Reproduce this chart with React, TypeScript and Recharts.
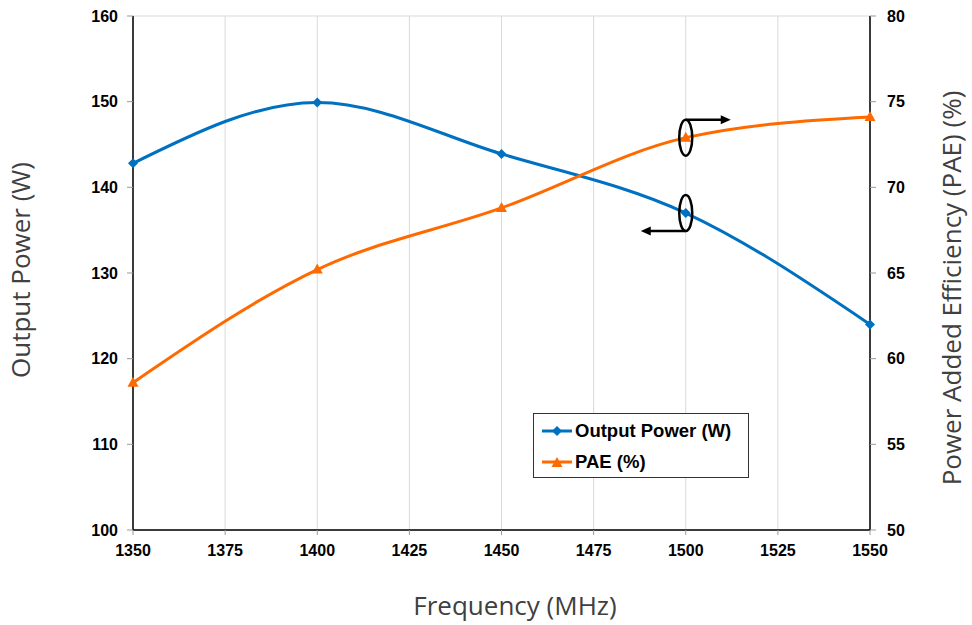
import React from 'react';
import {
  LineChart, Line, XAxis, YAxis, CartesianGrid, ReferenceDot,
} from 'recharts';

// ── Data ───────────────────────────────────────────────────────────────────

const FREQUENCIES = [1350, 1400, 1450, 1500, 1550];
const OUTPUT_POWER = [142.8, 149.9, 143.9, 137.0, 124.0];
const PAE = [58.6, 65.2, 68.8, 72.9, 74.1];

const X_TICKS = [1350, 1375, 1400, 1425, 1450, 1475, 1500, 1525, 1550];
const LEFT_TICKS = [100, 110, 120, 130, 140, 150, 160];
const RIGHT_TICKS = [50, 55, 60, 65, 70, 75, 80];

const chartData = FREQUENCIES.map((f, i) => ({ freq: f, power: OUTPUT_POWER[i], pae: PAE[i] }));

const BLUE = '#0070C0';
const ORANGE = '#FF6A00';
const TICK_FONT = { fill: '#000', fontSize: 16, fontWeight: 700, fontFamily: '"Liberation Sans", Arial, sans-serif' };
const TITLE_FONT = '"Open Sans", "Noto Sans", sans-serif';

// ── Markers ────────────────────────────────────────────────────────────────

function Diamond({ cx, cy }: any) {
  if (cx == null || cy == null) return null;
  return <path d={`M${cx},${cy - 5} L${cx + 5},${cy} L${cx},${cy + 5} L${cx - 5},${cy} Z`} fill={BLUE} />;
}

function Triangle({ cx, cy }: any) {
  if (cx == null || cy == null) return null;
  return <path d={`M${cx},${cy - 6} L${cx + 5.5},${cy + 4} L${cx - 5.5},${cy + 4} Z`} fill={ORANGE} />;
}

// ── Annotation: ellipse round a point + arrow pointing to its axis ─────────

function Callout({ cx, cy, dir }: any) {
  const ry = 18;
  const yArrow = dir > 0 ? cy - ry : cy + ry;
  const tip = cx + dir * 45;
  return (
    <g>
      <ellipse cx={cx} cy={cy} rx={6.5} ry={ry} fill="none" stroke="#000" strokeWidth={2.5} />
      <line x1={cx} y1={yArrow} x2={tip - dir * 8} y2={yArrow} stroke="#000" strokeWidth={2.5} />
      <path d={`M${tip},${yArrow} L${tip - dir * 10},${yArrow - 4.5} L${tip - dir * 10},${yArrow + 4.5} Z`} fill="#000" />
    </g>
  );
}

// ── Legend ─────────────────────────────────────────────────────────────────

function LegendBox() {
  const row = (color: string, marker: React.ReactNode, label: string) => (
    <div style={{ display: 'flex', alignItems: 'center', height: 31 }}>
      <svg width={32} height={14} style={{ marginRight: 2 }}>
        <line x1={1} y1={7} x2={31} y2={7} stroke={color} strokeWidth={3} />
        {marker}
      </svg>
      <span style={{ fontFamily: '"Liberation Sans", Arial, sans-serif', fontWeight: 700, fontSize: 18.5, color: '#000', whiteSpace: 'nowrap' }}>{label}</span>
    </div>
  );
  return (
    <div style={{
      position: 'absolute', left: 533, top: 413, width: 204, height: 62, boxSizing: 'content-box',
      border: '1.5px solid #333', background: '#fff', padding: '1px 3px 0 7px',
    }}>
      {row(BLUE, <Diamond cx={16} cy={7} />, 'Output Power (W)')}
      {row(ORANGE, <Triangle cx={16} cy={8} />, 'PAE (%)')}
    </div>
  );
}

// ── Chart ──────────────────────────────────────────────────────────────────

export default function App() {
  return (
    <div style={{ position: 'absolute', left: 0, top: 0, width: 972, height: 625, background: '#fff' }}>
      <LineChart width={972} height={625} data={chartData} margin={{ top: 16, right: 42, left: 73, bottom: 65 }}>
        <CartesianGrid stroke="#d9d9d9" strokeWidth={1} />
        <XAxis
          dataKey="freq"
          type="number"
          domain={[1350, 1550]}
          ticks={X_TICKS}
          tick={TICK_FONT}
          tickSize={5}
          tickMargin={10}
          height={30}
          axisLine={{ stroke: '#000', strokeWidth: 1.5 }}
          tickLine={{ stroke: '#999' }}
        />
        <YAxis
          yAxisId="left"
          domain={[100, 160]}
          ticks={LEFT_TICKS}
          tick={TICK_FONT}
          tickSize={6}
          tickMargin={9}
          width={60}
          axisLine={{ stroke: '#000', strokeWidth: 1.5 }}
          tickLine={{ stroke: '#999' }}
        />
        <YAxis
          yAxisId="right"
          orientation="right"
          domain={[50, 80]}
          ticks={RIGHT_TICKS}
          tick={TICK_FONT}
          tickSize={6}
          tickMargin={11}
          width={60}
          axisLine={{ stroke: '#000', strokeWidth: 1.5 }}
          tickLine={{ stroke: '#999' }}
        />
        <Line
          yAxisId="left"
          type="monotone"
          dataKey="power"
          name="Output Power (W)"
          stroke={BLUE}
          strokeWidth={3}
          dot={<Diamond />}
          activeDot={false}
          isAnimationActive={false}
        />
        <Line
          yAxisId="right"
          type="monotone"
          dataKey="pae"
          name="PAE (%)"
          stroke={ORANGE}
          strokeWidth={3}
          dot={<Triangle />}
          activeDot={false}
          isAnimationActive={false}
        />
        <ReferenceDot yAxisId="right" x={1500} y={PAE[3]} shape={(p: any) => <Callout {...p} dir={1} />} />
        <ReferenceDot yAxisId="left" x={1500} y={OUTPUT_POWER[3]} shape={(p: any) => <Callout {...p} dir={-1} />} />
        <text x={515} y={615} textAnchor="middle" fontFamily={TITLE_FONT} fontSize={26} fill="#404040">
          Frequency (MHz)
        </text>
        <text x={30} y={270} textAnchor="middle" fontFamily={TITLE_FONT} fontSize={26} fill="#404040" transform="rotate(-90 30 270)">
          Output Power (W)
        </text>
        <text x={961} y={288} textAnchor="middle" fontFamily={TITLE_FONT} fontSize={26} fill="#404040" transform="rotate(-90 961 288)">
          Power Added Efficiency (PAE) (%)
        </text>
      </LineChart>
      <LegendBox />
    </div>
  );
}
